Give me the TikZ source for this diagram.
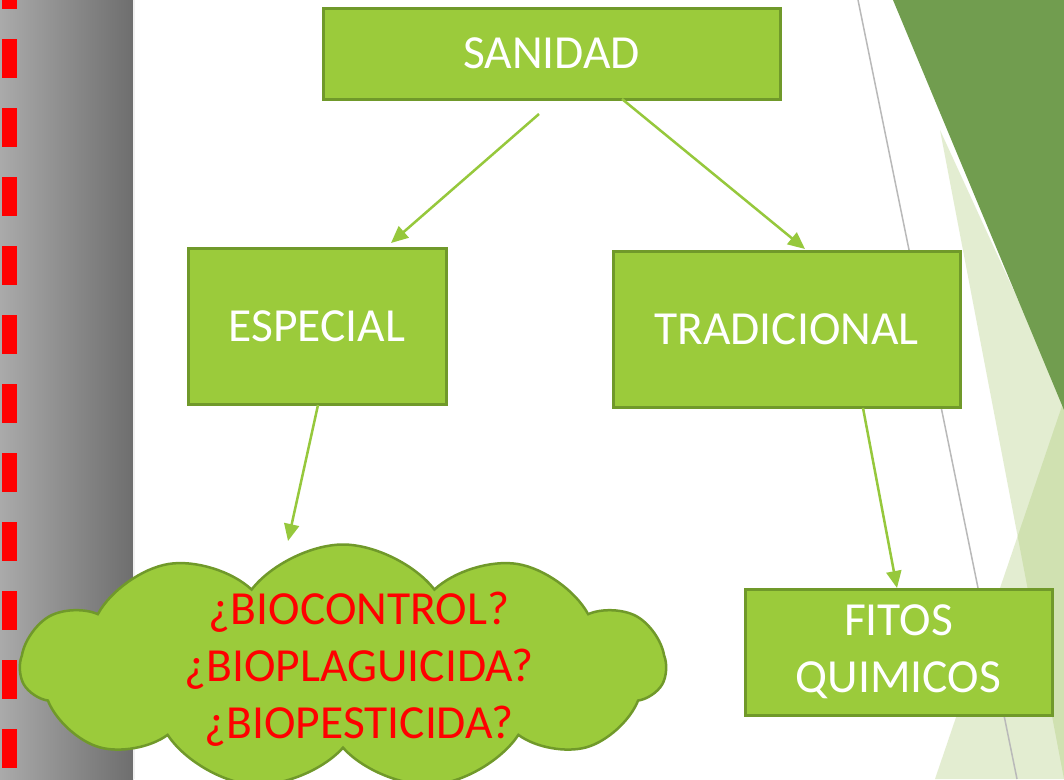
\documentclass[tikz,border=0pt]{standalone}
\usepackage{fontspec}
\setmainfont{Carlito}
\usepackage{xcolor}
\usetikzlibrary{arrows.meta,shapes.symbols,positioning}

\definecolor{boxfill}{RGB}{155,203,59}
\definecolor{boxline}{RGB}{112,153,42}
\definecolor{arrowgreen}{RGB}{150,200,60}
\definecolor{darkfacet}{RGB}{113,157,79}
\definecolor{lightfacet}{RGB}{165,198,105}
\definecolor{barleft}{RGB}{170,170,170}
\definecolor{barright}{RGB}{110,110,110}

\begin{document}
\begin{tikzpicture}[x=1pt,y=-1pt,
            box/.style={rectangle,draw=boxline,fill=boxfill,line width=3pt,text=white,
              inner sep=0pt,align=center,font=\fontsize{47.5}{57}\selectfont},
            bubble/.style={cloud,cloud puffs=11,cloud puff arc=105,aspect=2.7,draw=boxline,
              fill=boxfill,line width=2.5pt,inner sep=0pt},
            bubble text/.style={text=red,align=center,font=\fontsize{47.5}{57}\selectfont},
            arrow/.style={draw=arrowgreen,line width=2.5pt,-{Triangle[length=17pt,width=15pt]}}]

        % background
        \useasboundingbox (0,0) rectangle (1064,779);
        \fill[white] (0,0) rectangle (1064,779);
        \shade[left color=barleft,right color=barright] (0,0) rectangle (133,779);
        \draw[white!88!gray,line width=2pt] (134,0) -- (134,779);
        \draw[red,line width=15pt,dash pattern=on 39pt off 30pt,dash phase=30pt] (9.5,0) -- (9.5,779);
        \fill[lightfacet,opacity=0.3] (940,130) -- (1064,779) -- (1064,400) -- cycle;
        \fill[lightfacet,opacity=0.3] (1064,400) -- (935,779) -- (1064,779) -- cycle;
        \fill[darkfacet] (893,0) -- (1064,0) -- (1064,410) -- cycle;
        \draw[gray!55,line width=1.5pt] (858,0) -- (1017,779);

        \node[box,minimum width=457,minimum height=91] (S) at (551.5,53.5) {SANIDAD};
        \node[box,minimum width=258,minimum height=156] (E) at (317,326) {ESPECIAL};
        \node[box,minimum width=347,minimum height=156] (T) at (786.5,329) {TRADICIONAL};
        \node[box,minimum width=307,minimum height=126] (F) at (898.5,652) {FITOS\\QUIMICOS};
        \node[bubble,minimum width=645,minimum height=245,
            label={[bubble text,xshift=16pt,yshift=-2pt]center:{¿BIOCONTROL?\\¿BIOPLAGUICIDA?\\¿BIOPESTICIDA?}}]
            (B) at (343,667) {};

        \coordinate (S1) at (539,114);
        \coordinate (E1) at (391,243);
        \coordinate (S2) at (622,99);
        \coordinate (T2) at (805,249);
        \coordinate (E3) at (318,405);
        \coordinate (B3) at (288,541);
        \coordinate (T4) at (863,408);
        \coordinate (F4) at (897,588);

        \draw[arrow] (S1) -- (E1);
        \draw[arrow] (S2) -- (T2);
        \draw[arrow] (E3) -- (B3);
        \draw[arrow] (T4) -- (F4);

    \end{tikzpicture}
\end{document}
